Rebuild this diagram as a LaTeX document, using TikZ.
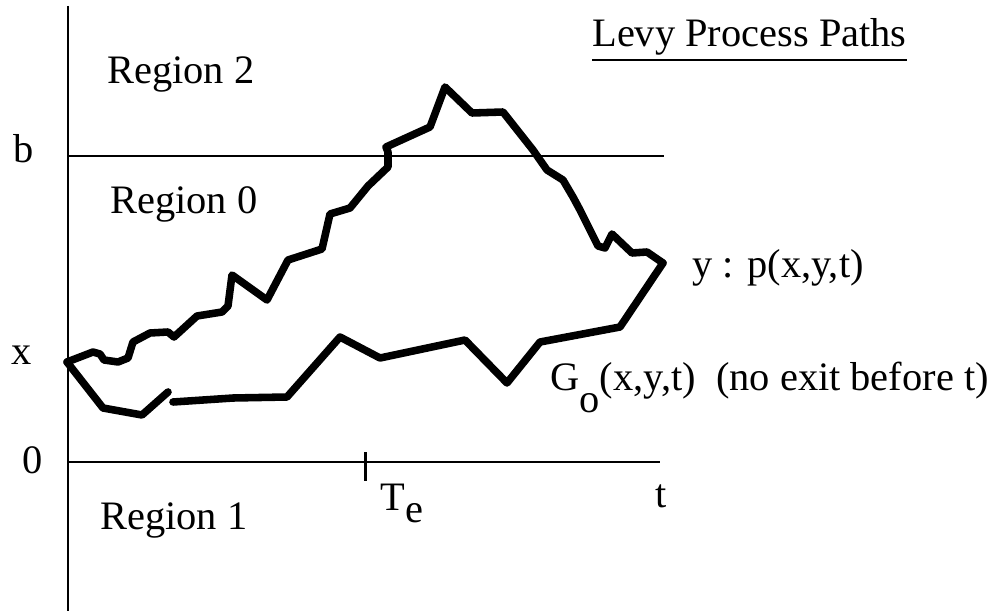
\documentclass[tikz,border=0pt]{standalone}
\usepackage{fontspec}
\setmainfont{Liberation Serif}
\usepackage{tikz}
\usetikzlibrary{positioning}

\begin{document}
\begin{tikzpicture}[
    x=0.02cm, y=-0.02cm,
    lbl/.style={inner sep=0pt, anchor=base west, font=\fontsize{23}{28}\selectfont},
    axis/.style={line width=1.1pt},
    levy/.style={line width=4.3pt, line join=round, line cap=round},
]
\useasboundingbox (0,0) rectangle (996,611);

% axes and levels
\coordinate (top) at (68,6);
\coordinate (bot) at (68,611);
\coordinate (org) at (68,462);
\coordinate (tend) at (660,462);
\coordinate (bl) at (68,156);
\coordinate (br) at (664,156);
\coordinate (te) at (365,462);

\draw[axis] (top) -- (bot);
\draw[axis] (bl) -- (br);
\draw[axis] (org) -- (tend);
\draw[line width=1.7pt] ([yshift=0.2cm]te) -- ([yshift=-0.38cm]te);

% labels
\node[lbl] (blbl) at (13,163) {b};
\node[lbl] (xlbl) at (11,364) {x};
\node[lbl] (zlbl) at (22,473) {0};
\node[lbl] (reg2) at (107,84) {Region 2};
\node[lbl] (reg0) at (110,214) {Region 0};
\node[lbl] (reg1) at (100,529) {Region 1};
\node[lbl] (tlbl) at (655,507) {t};
\node[lbl] (telbl) at (380,510) {T\raisebox{-0.32em}{e}};
\node[lbl] (title) at (592,47) {Levy Process Paths};
\draw[axis] ([yshift=-2.5pt]title.south west) -- ([yshift=-2.5pt]title.south east);
\node[lbl] (ylbl) at (692,277) {y : p(x,y,t)};
\node[lbl] (glbl) at (550,390) {G\raisebox{-0.55em}{o}(x,y,t)\ \ (no exit before t)};

% sample paths
\coordinate (x0) at (67,362);
\coordinate (yend) at (663,263);

\draw[levy] (x0) -- (93,352) -- (100,354) -- (104,360) -- (118,362) -- (128,358)
    -- (133,342) -- (150,333) -- (168,332) -- (174,337) -- (197,316) -- (222,312)
    -- (228,306) -- (232,275) -- (267,300) -- (288,260) -- (322,249) -- (330,214)
    -- (350,208) -- (368,186) -- (388,167) -- (388,152) -- (386,147) -- (430,127)
    -- (445,87) -- (472,113) -- (503,112) -- (533,150) -- (547,170) -- (563,180)
    -- (573,197) -- (580,210) -- (598,246) -- (605,248) -- (612,234) -- (632,253)
    -- (647,252) -- (yend);

\draw[levy] (x0) -- (103,408) -- (142,415) -- (168,392);
\draw[levy] (173,402) -- (233,398) -- (287,397) -- (340,337) -- (380,358)
    -- (465,340) -- (507,383) -- (540,342) -- (620,327) -- (yend);

\end{tikzpicture}
\end{document}
